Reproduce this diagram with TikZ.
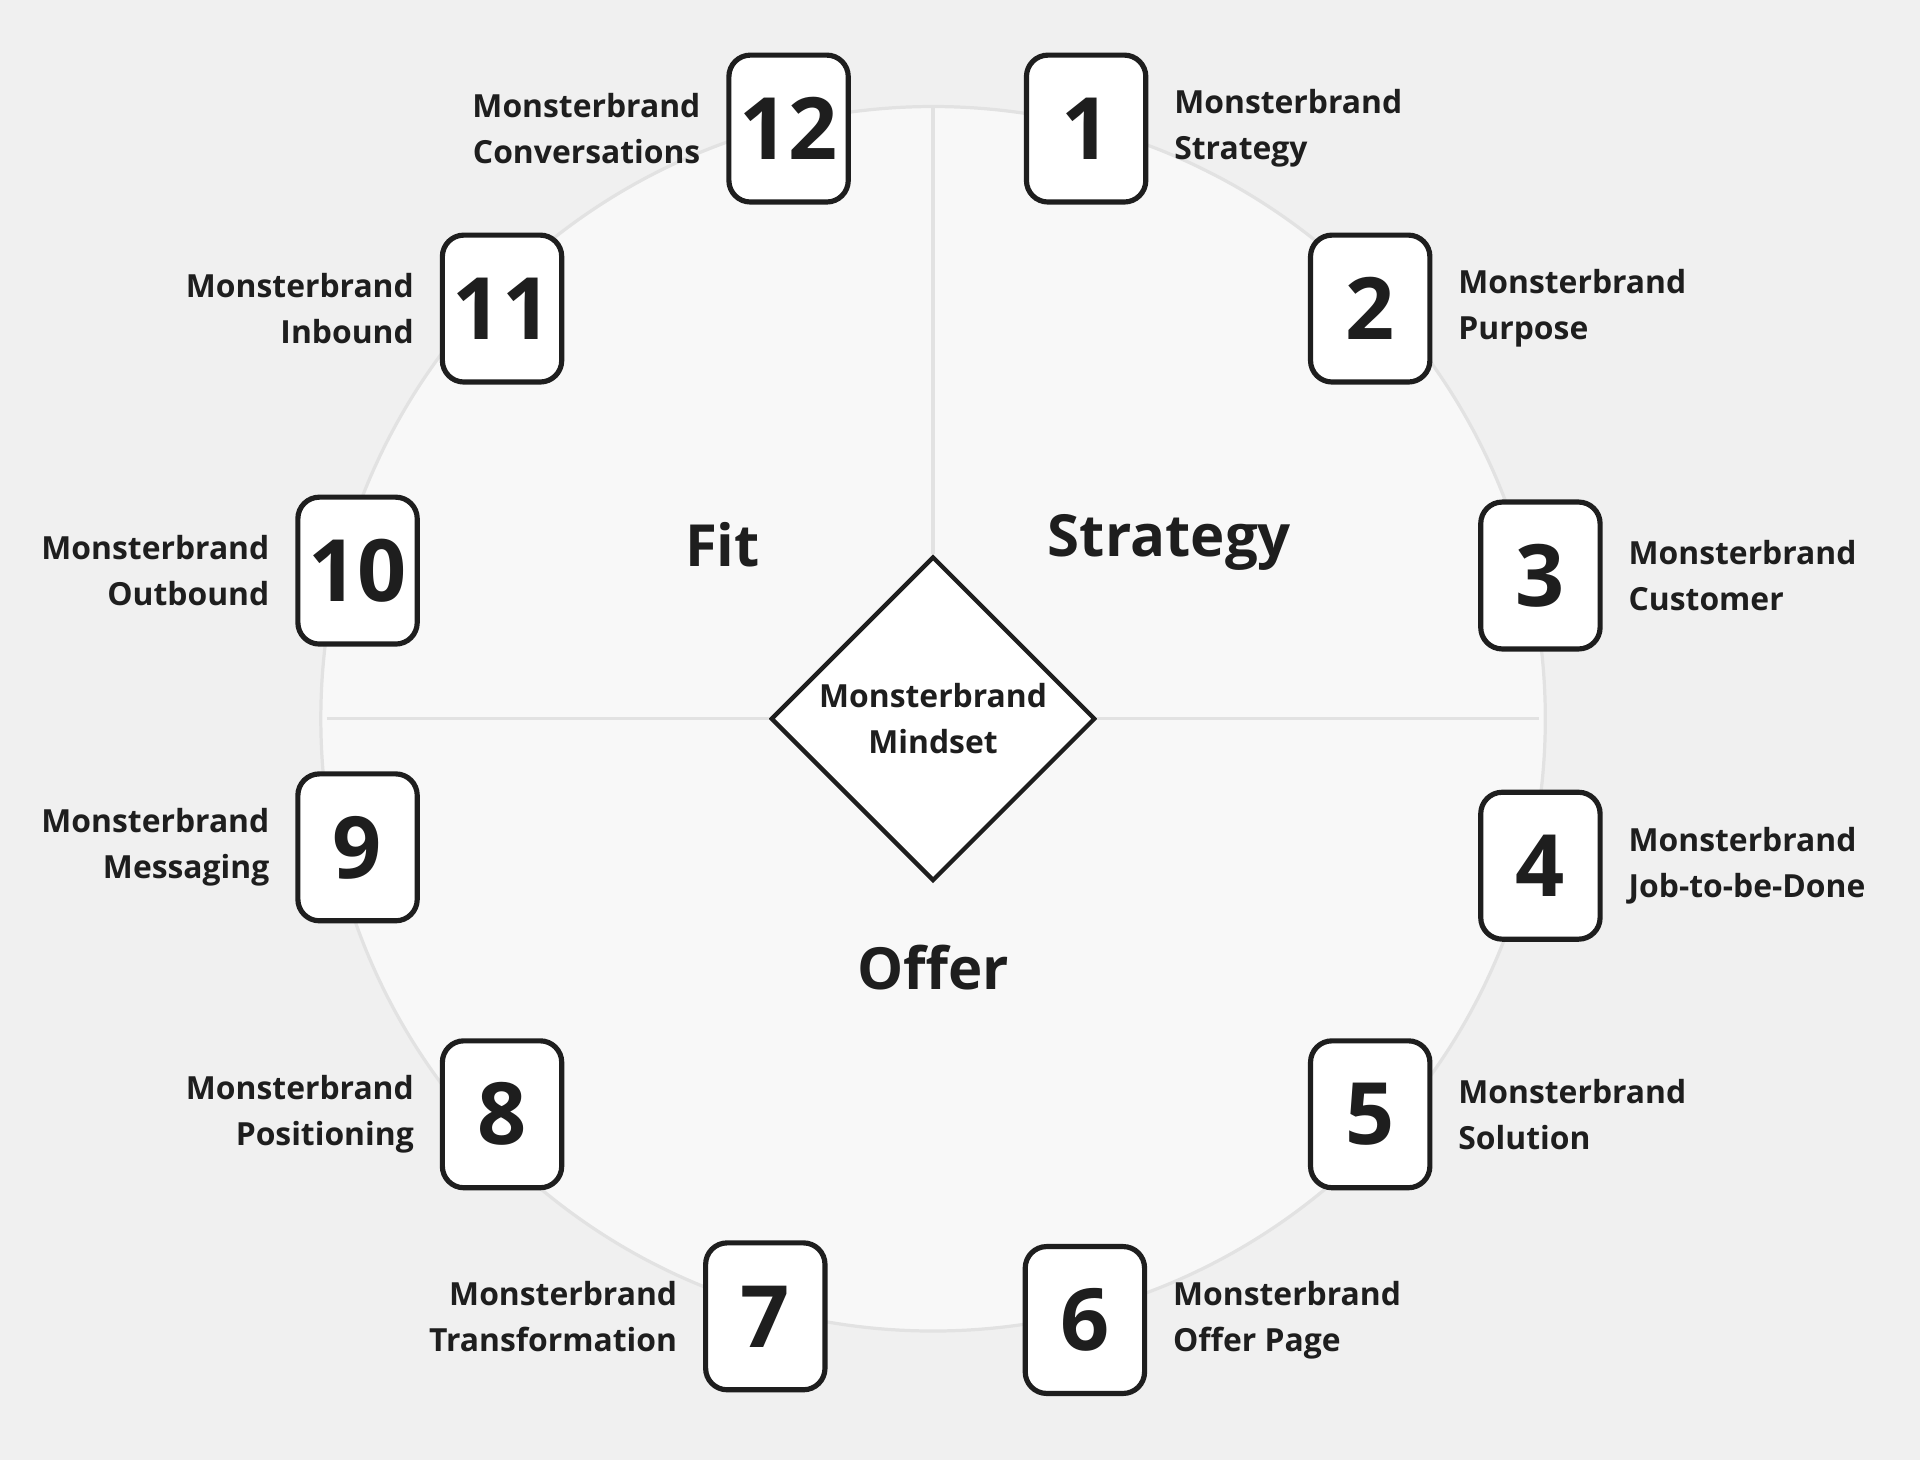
\documentclass[tikz,border=0pt]{standalone}
\usepackage{fontspec}
\setmainfont{Open Sans}
\usetikzlibrary{shapes.geometric}
\definecolor{bgc}{HTML}{F0F0F0}
\definecolor{discc}{HTML}{F8F8F8}
\definecolor{ruler}{HTML}{E2E2E2}
\definecolor{ink}{HTML}{1E1E1E}
\tikzset{
  numbox/.style={draw=ink, line width=2.4pt, fill=white, rounded corners=10pt, minimum width=1.95cm, minimum height=2.4cm, font=\fontsize{40}{40}\bfseries, text=ink, inner sep=0pt},
  rlabel/.style={align=left, anchor=west, font=\fontsize{14.8}{21.5}\bfseries, text=ink},
  llabel/.style={align=right, anchor=east, font=\fontsize{14.8}{21.5}\bfseries, text=ink},
  quad/.style={font=\fontsize{27}{27}\bfseries, text=ink}
}
\begin{document}
\begin{tikzpicture}[x=0.02cm, y=-0.02cm]
\fill[bgc] (0,0) rectangle (1568,1192);
\useasboundingbox (0,0) rectangle (1568,1192);
\fill[discc] (762,587) circle (500);
\draw[ruler, line width=1.5pt] (762,587) circle (500);
\node[diamond, draw=ink, line width=2pt, fill=white, minimum width=5.3cm, minimum height=5.3cm, inner sep=0pt] (mindset) at (762,587) {};
\node[font=\fontsize{14.8}{21.5}\bfseries, align=center, text=ink] at (mindset) {Monsterbrand\\Mindset};
\draw[ruler, line width=1.5pt] (762,87) -- (mindset.north);
\draw[ruler, line width=1.5pt] (267,587) -- (mindset.west);
\draw[ruler, line width=1.5pt] (mindset.east) -- (1257,587);
\node[quad] (fit) at (590,445) {Fit};
\node[quad] (strategy) at (955,443) {Strategy};
\node[quad] (offer) at (762,790) {Offer};
% right side
\foreach \n/\x/\y/\t in {1/887/105/{Strategy}, 2/1119/252/{Purpose}, 3/1258/470/{Customer}, 4/1258/707/{Job-to-be-Done}, 5/1119/910/{Solution}, 6/886/1078/{Offer Page}}{
  \node[numbox] (box\n) at (\x,\y) {\n};
  \node[rlabel] (lab\n) at ([xshift=0.3cm]box\n.east) {Monsterbrand\\\t};
}
% left side
\foreach \n/\x/\y/\t in {12/644/105/{Conversations}, 11/410/252/{Inbound}, 10/292/466/{Outbound}, 9/292/692/{Messaging}, 8/410/910/{Positioning}, 7/625/1075/{Transformation}}{
  \node[numbox] (box\n) at (\x,\y) {\n};
  \node[llabel] (lab\n) at ([xshift=-0.3cm]box\n.west) {Monsterbrand\\\t};
}
\end{tikzpicture}
\end{document}
